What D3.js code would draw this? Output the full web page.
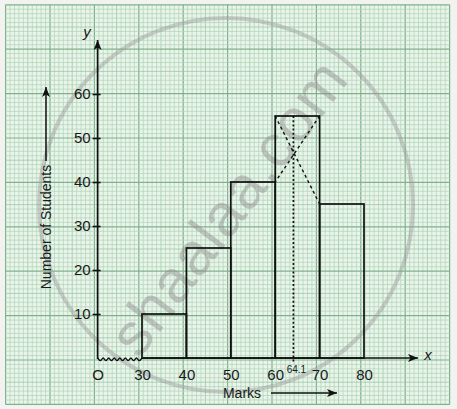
<!DOCTYPE html>
<html><head><meta charset="utf-8">
<script src="https://cdn.jsdelivr.net/npm/d3@7"></script>
<style>body{margin:0;background:#f2f2f0} svg{display:block}</style>
</head><body>
<svg id="c" width="457" height="409"></svg>
<script>
// ---- data ----
const classStarts = [30, 40, 50, 60, 70];
const classEnds   = [40, 50, 60, 70, 80];
const students    = [10, 25, 40, 55, 35];
const xTickValues = [20, 30, 40, 50, 60, 70, 80];
const xTickLabels = ["O", "30", "40", "50", "60", "70", "80"];
const yTickValues = [10, 20, 30, 40, 50, 60];
const modeValue   = 64.1;
const modeLabel   = "64.1";

const svg = d3.select("#c");
const FONT = "'Liberation Sans', Arial, Helvetica, sans-serif";

// ---- scales ----
const x = d3.scaleLinear().domain([20, 80]).range([97.6, 364]);
const y = d3.scaleLinear().domain([0, 60]).range([358, 94]);

// ---- graph paper ----
const gx0 = 5.6, gy0 = 4.8, cell = 4.44;
const nx = 100, ny = 90;
const paper = svg.append("g");
paper.append("rect").attr("x", gx0).attr("y", gy0)
  .attr("width", nx * cell).attr("height", ny * cell).attr("fill", "#eaf4eb");
const gStroke = i => i % 10 === 0 ? "#7fb28c" : (i % 5 === 0 ? "#98c5a3" : "#b0d5b8");
const gWidth = i => i % 10 === 0 ? 1.2 : 0.75;
paper.selectAll("line.vx").data(d3.range(nx + 1)).join("line")
  .attr("x1", i => gx0 + i * cell).attr("x2", i => gx0 + i * cell)
  .attr("y1", gy0).attr("y2", gy0 + ny * cell)
  .attr("stroke", gStroke).attr("stroke-width", gWidth);
paper.selectAll("line.hy").data(d3.range(ny + 1)).join("line")
  .attr("y1", i => gy0 + i * cell).attr("y2", i => gy0 + i * cell)
  .attr("x1", gx0).attr("x2", gx0 + nx * cell)
  .attr("stroke", gStroke).attr("stroke-width", gWidth);

// ---- watermark ----
const wm = svg.append("g").attr("opacity", 0.45);
wm.append("circle").attr("cx", 226).attr("cy", 205).attr("r", 187)
  .attr("fill", "none").attr("stroke", "#9a9a9a").attr("stroke-width", 4);
wm.append("text").attr("transform", "translate(232,210) rotate(-53)")
  .attr("text-anchor", "middle").attr("dominant-baseline", "middle")
  .attr("font-family", FONT).attr("font-size", 60).attr("letter-spacing", 1).attr("fill", "#8c8c8c")
  .text("shaalaa.com");

// ---- arrow markers ----
const defs = svg.append("defs");
defs.append("marker").attr("id", "ah").attr("viewBox", "0 0 10 8")
  .attr("refX", 10).attr("refY", 4).attr("markerWidth", 12).attr("markerHeight", 8)
  .attr("markerUnits", "userSpaceOnUse").attr("orient", "auto")
  .append("path").attr("d", "M0,0 L10,4 L0,8 L2.5,4 Z").attr("fill", "#111");

// ---- bars ----
const bars = classStarts.map((s, i) => ({ s, e: classEnds[i], v: students[i] }));
svg.append("g").selectAll("rect").data(bars).join("rect")
  .attr("x", d => x(d.s)).attr("y", d => y(d.v))
  .attr("width", d => x(d.e) - x(d.s)).attr("height", d => y(0) - y(d.v))
  .attr("fill", "none").attr("stroke", "#111").attr("stroke-width", 1.7);

// ---- mode construction ----
const iMode = students.indexOf(d3.max(students));
const cm = svg.append("g").attr("stroke", "#111").attr("fill", "none");
cm.append("line")
  .attr("x1", x(classStarts[iMode])).attr("y1", y(students[iMode]))
  .attr("x2", x(classEnds[iMode])).attr("y2", y(students[iMode + 1]))
  .attr("stroke-width", 1.4).attr("stroke-dasharray", "3,3");
cm.append("line")
  .attr("x1", x(classEnds[iMode])).attr("y1", y(students[iMode]))
  .attr("x2", x(classStarts[iMode])).attr("y2", y(students[iMode - 1]))
  .attr("stroke-width", 1.4).attr("stroke-dasharray", "3,3");
cm.append("line")
  .attr("x1", x(modeValue)).attr("y1", y(students[iMode]))
  .attr("x2", x(modeValue)).attr("y2", y(0) + 4)
  .attr("stroke-width", 1.7).attr("stroke-dasharray", "2,2.2");

// ---- axes ----
svg.append("line").attr("x1", x(30)).attr("y1", y(0)).attr("x2", 418).attr("y2", y(0))
  .attr("stroke", "#111").attr("stroke-width", 1.7).attr("marker-end", "url(#ah)");
// axis break (wavy segment between O and 30)
const nHalf = 16;
const zz = d3.range(0, nHalf + 1).map(k => [x(20) + k * (x(30) - x(20)) / nHalf, y(0) + (k % 2 ? 2.6 : 0)]);
svg.append("path").attr("d", d3.line().curve(d3.curveCardinal)(zz))
  .attr("fill", "none").attr("stroke", "#111").attr("stroke-width", 1.3);

svg.append("line").attr("x1", x(20)).attr("y1", y(0) + 1).attr("x2", x(20)).attr("y2", 40)
  .attr("stroke", "#111").attr("stroke-width", 1.7).attr("marker-end", "url(#ah)");

const yAxis = svg.append("g").attr("transform", `translate(${x(20)},0)`)
  .call(d3.axisLeft(y).tickValues(yTickValues).tickSize(5).tickPadding(2));
yAxis.select(".domain").remove();
yAxis.selectAll(".tick line").attr("x1", 3).attr("x2", -5).attr("stroke", "#111").attr("stroke-width", 1.6);
yAxis.selectAll(".tick text").attr("font-family", FONT).attr("font-size", 15).attr("fill", "#1a1a1a");

const xAxis = svg.append("g").attr("transform", `translate(0,${y(0)})`)
  .call(d3.axisBottom(x).tickValues(xTickValues).tickSize(0).tickPadding(11)
    .tickFormat((d, i) => xTickLabels[i]));
xAxis.select(".domain").remove();
xAxis.selectAll(".tick text").attr("font-family", FONT).attr("font-size", 15).attr("fill", "#1a1a1a");

svg.append("text").attr("x", x(modeValue) + 3).attr("y", 373)
  .attr("text-anchor", "middle").attr("font-family", FONT).attr("font-size", 10)
  .attr("fill", "#1a1a1a").text(modeLabel);

svg.append("text").attr("x", 428).attr("y", 360).attr("text-anchor", "middle")
  .attr("font-family", FONT).attr("font-style", "italic").attr("font-size", 15)
  .attr("fill", "#1a1a1a").text("x");
svg.append("text").attr("x", 87).attr("y", 37).attr("text-anchor", "middle")
  .attr("font-family", FONT).attr("font-style", "italic").attr("font-size", 15)
  .attr("fill", "#1a1a1a").text("y");

svg.append("text").attr("x", 242).attr("y", 398).attr("text-anchor", "middle")
  .attr("font-family", FONT).attr("font-size", 14).attr("fill", "#1a1a1a").text("Marks");
svg.append("line").attr("x1", 271).attr("y1", 393).attr("x2", 337).attr("y2", 393)
  .attr("stroke", "#111").attr("stroke-width", 1.5).attr("marker-end", "url(#ah)");

svg.append("text").attr("transform", "translate(51,227) rotate(-90)").attr("text-anchor", "middle")
  .attr("font-family", FONT).attr("font-size", 14).attr("fill", "#1a1a1a").text("Number of Students");
svg.append("line").attr("x1", 46).attr("y1", 161).attr("x2", 46).attr("y2", 87)
  .attr("stroke", "#111").attr("stroke-width", 1.5).attr("marker-end", "url(#ah)");
</script>
</body></html>
